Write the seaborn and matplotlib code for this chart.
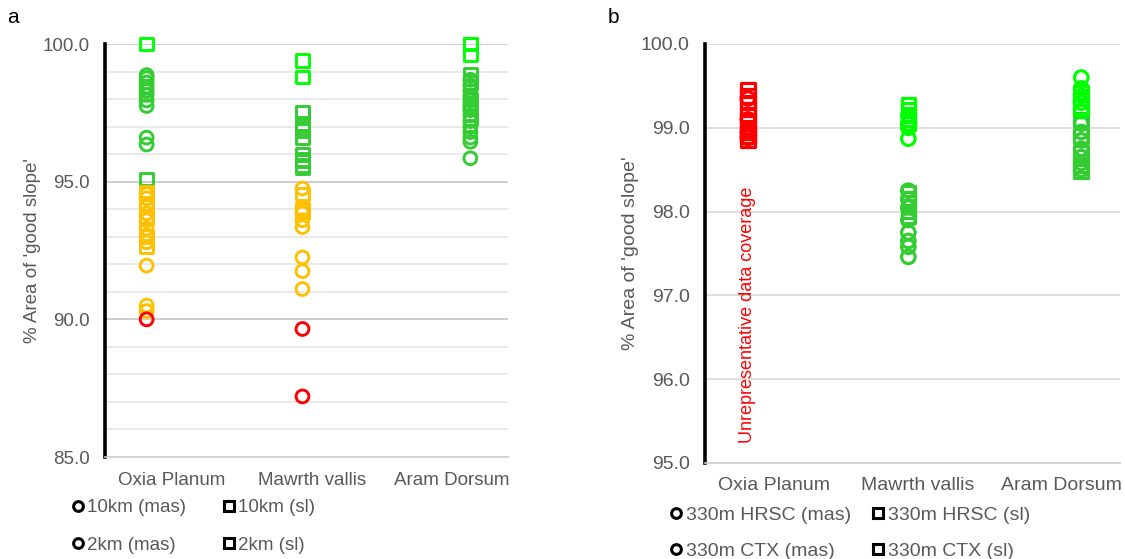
import matplotlib
matplotlib.use("Agg")
import matplotlib.pyplot as plt
import pandas as pd
import seaborn as sns
from matplotlib.lines import Line2D
from matplotlib.ticker import MultipleLocator, FormatStrFormatter

# ---------------- data ----------------
sites = ["Oxia Planum", "Mawrth vallis", "Aram Dorsum"]

# panel a  (10 km / 2 km)
a_oxia_sq_bright = [100.0]
a_oxia_circ_green = [98.87, 98.76, 98.6, 98.45, 98.3, 98.15, 97.95, 97.75, 96.6, 96.35]
a_oxia_sq_green = [95.1]
a_oxia_circ_amber = [94.55, 94.4, 94.1, 93.85, 93.6, 93.3, 93.05, 92.8, 91.95, 90.5, 90.3]
a_oxia_sq_amber = [94.6, 94.2, 93.7, 93.0, 92.65]
a_oxia_circ_red = [90.0]

a_mawrth_sq_bright = [99.4, 98.8]
a_mawrth_sq_green = [97.5, 97.1, 96.95, 96.85, 96.6, 96.0, 95.8, 95.75, 95.6, 95.5]
a_mawrth_circ_amber = [94.75, 94.0, 93.85, 93.6, 93.35, 92.25, 91.75, 91.1]
a_mawrth_sq_amber = [94.55, 94.0, 93.9]
a_mawrth_circ_red = [89.65, 87.2]

a_aram_sq_bright = [100.0, 100.0, 100.0, 99.6]
a_aram_sq_green = [98.9, 98.6, 98.0, 97.7, 97.3]
a_aram_circ_green = [98.7, 98.5, 98.3, 98.1, 97.95, 97.8, 97.7, 97.6, 97.4,
                     97.2, 97.0, 96.8, 96.6, 96.45, 95.85]

# panel b  (330 m HRSC / CTX)
b_oxia_sq_red = [99.45, 99.38, 99.3, 99.22, 99.15, 99.08, 99.0, 98.95, 98.9, 98.85]
b_oxia_circ_red = [99.35, 99.1, 98.95, 98.88]

b_mawrth_sq_bright = [99.28, 99.22, 99.15, 99.1, 99.05]
b_mawrth_circ_bright = [99.15, 99.05, 99.0, 98.87]
b_mawrth_sq_green = [98.22, 98.15, 98.1, 98.0, 97.95]
b_mawrth_circ_green = [98.25, 98.15, 98.05, 97.9, 97.75, 97.65, 97.58, 97.46]

b_aram_circ_bright = [99.6, 99.47, 99.38, 99.3, 99.2]
b_aram_sq_bright = [99.42, 99.35, 99.25]
b_aram_circ_green = [99.05, 98.95, 98.85, 98.75, 98.65, 98.58, 98.5]
b_aram_sq_green = [99.1, 98.9, 98.7, 98.55, 98.48]

legend_a = ["10km (mas)", "10km (sl)", "2km (mas)", "2km (sl)"]
legend_b = ["330m HRSC (mas)", "330m HRSC (sl)", "330m CTX (mas)", "330m CTX (sl)"]
note_b = "Unrepresentative data coverage"

# ---------------- styling ----------------
COL = {"red": "#FF0000", "amber": "#FFC000", "green": "#33CC33", "bright": "#00FF00"}
MARK = {"mas": "o", "sl": "s"}
GREY = "#595959"
site_x = [0.31, 1.47, 2.72]     # marker positions on the x axis (0..3)
label_x = [0.50, 1.54, 2.58]    # category label positions

groups_a = [
    (0, "mas", "green", a_oxia_circ_green), (0, "sl", "green", a_oxia_sq_green),
    (0, "sl", "bright", a_oxia_sq_bright), (0, "mas", "amber", a_oxia_circ_amber),
    (0, "sl", "amber", a_oxia_sq_amber), (0, "mas", "red", a_oxia_circ_red),
    (1, "sl", "green", a_mawrth_sq_green), (1, "sl", "bright", a_mawrth_sq_bright),
    (1, "mas", "amber", a_mawrth_circ_amber), (1, "sl", "amber", a_mawrth_sq_amber),
    (1, "mas", "red", a_mawrth_circ_red),
    (2, "mas", "green", a_aram_circ_green), (2, "sl", "green", a_aram_sq_green),
    (2, "sl", "bright", a_aram_sq_bright),
]
groups_b = [
    (0, "sl", "red", b_oxia_sq_red), (0, "mas", "red", b_oxia_circ_red),
    (1, "mas", "green", b_mawrth_circ_green), (1, "sl", "green", b_mawrth_sq_green),
    (1, "mas", "bright", b_mawrth_circ_bright), (1, "sl", "bright", b_mawrth_sq_bright),
    (2, "mas", "green", b_aram_circ_green), (2, "sl", "green", b_aram_sq_green),
    (2, "sl", "bright", b_aram_sq_bright), (2, "mas", "bright", b_aram_circ_bright),
]

sns.set_theme(style="white")
plt.rcParams["font.family"] = ["Liberation Sans", "DejaVu Sans"]

fig = plt.figure(figsize=(11.25, 5.59), dpi=100)
ax_a = fig.add_axes([105 / 1125, 1 - 457 / 559, 403 / 1125, 413 / 559])
ax_b = fig.add_axes([705 / 1125, 1 - 463 / 559, 415 / 1125, 419 / 559])


def draw(ax, groups, size, lw):
    for site_i, shape, colour, vals in groups:
        df = pd.DataFrame({"x": [site_x[site_i]] * len(vals), "y": vals})
        sns.scatterplot(data=df, x="x", y="y", ax=ax, marker=MARK[shape], s=size,
                        color=COL[colour], facecolors="none", edgecolor=COL[colour],
                        linewidth=lw, legend=False, clip_on=False, zorder=3)


def style(ax, ylim, fs, xpad):
    ax.set_xlim(0, 3)
    ax.set_ylim(*ylim)
    ax.set_xticks(label_x)
    ax.set_xticklabels(sites)
    ax.yaxis.set_major_formatter(FormatStrFormatter("%.1f"))
    ax.tick_params(axis="both", length=0, labelsize=fs, labelcolor=GREY)
    ax.tick_params(axis="y", pad=11)
    ax.tick_params(axis="x", pad=xpad)
    for s in ["top", "right"]:
        ax.spines[s].set_visible(False)
    ax.spines["left"].set_color("black")
    ax.spines["left"].set_linewidth(2.6)
    ax.spines["bottom"].set_color("#D0D0D0")
    ax.spines["bottom"].set_linewidth(1.2)
    ax.set_axisbelow(True)
    ax.set_xlabel("")
    ax.set_ylabel("% Area of 'good slope'", color=GREY, fontsize=fs, labelpad=1)


draw(ax_a, groups_a, 85, 2.1)
style(ax_a, (85, 100), 13.5, 11)
ax_a.yaxis.set_major_locator(MultipleLocator(5))
ax_a.yaxis.set_minor_locator(MultipleLocator(1))
ax_a.grid(True, which="major", axis="y", color="#C6C6C6", lw=1.2)
ax_a.grid(True, which="minor", axis="y", color="#E6E6E6", lw=1.2)

draw(ax_b, groups_b, 95, 2.3)
style(ax_b, (95, 100), 14, 10)
ax_b.yaxis.set_major_locator(MultipleLocator(1))
ax_b.grid(True, which="major", axis="y", color="#D9D9D9", lw=1.2)
ax_b.text(site_x[0], 96.77, note_b, rotation=90, color="#FF0000", fontsize=13,
          ha="center", va="center")


def handles(labels):
    mk = ["o", "s", "o", "s"]
    return [Line2D([], [], ls="none", marker=m, mfc="none", mec="black", mew=2.2, ms=7,
                   label=l) for m, l in zip(mk, labels)]


def legend(labels, anchor, fs, colsp, lsp):
    h = handles(labels)
    order = [0, 2, 1, 3]
    leg = fig.legend([h[i] for i in order], [labels[i] for i in order], ncol=2,
                     loc="upper left", bbox_to_anchor=anchor, frameon=False,
                     fontsize=fs, handlelength=0.6, handletextpad=0.2,
                     columnspacing=colsp, labelspacing=lsp, borderpad=0,
                     borderaxespad=0)
    for t in leg.get_texts():
        t.set_color(GREY)


legend(legend_a, (72 / 1125, 1 - 499 / 559), 13.5, 2.0, 1.08)
legend(legend_b, (670 / 1125, 1 - 506 / 559), 14, 1.1, 0.95)

fig.text(7 / 1125, 1 - 8 / 559, "a", fontsize=15, va="top", ha="left", color="black")
fig.text(608 / 1125, 1 - 8 / 559, "b", fontsize=15, va="top", ha="left", color="black")

fig.savefig("out.png", dpi=100)
